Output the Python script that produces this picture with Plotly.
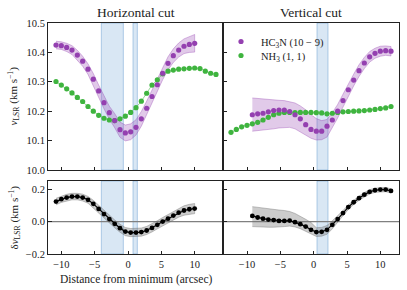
import plotly.graph_objects as go

# ---------------- data ----------------
# Horizontal cut
x_h_hc3n = [-10.8, -10.0, -9.2, -8.4, -7.6, -6.8, -6.0, -5.2, -4.4, -3.6, -2.8, -2.0, -1.2, -0.4,
            0.4, 1.2, 2.0, 2.8, 3.6, 4.4, 5.2, 6.0, 6.8, 7.6, 8.4, 9.2, 10.0]
v_h_hc3n = [10.425, 10.423, 10.417, 10.408, 10.391, 10.370, 10.343, 10.309, 10.269, 10.229, 10.195,
            10.168, 10.137, 10.126, 10.130, 10.145, 10.174, 10.210, 10.250, 10.290, 10.329, 10.363,
            10.389, 10.408, 10.421, 10.427, 10.431]
err_h_hc3n = [0.013, 0.013, 0.014, 0.015, 0.016, 0.017, 0.018, 0.019, 0.020, 0.021, 0.022, 0.024,
              0.026, 0.027, 0.027, 0.026, 0.025, 0.024, 0.023, 0.022, 0.022, 0.022, 0.023, 0.024,
              0.025, 0.027, 0.030]
x_h_nh3 = [-10.8, -10.0, -9.2, -8.4, -7.6, -6.8, -6.0, -5.2, -4.4, -3.6, -2.8, -2.0, -1.2, -0.4,
           0.4, 1.2, 2.0, 2.8, 3.6, 4.4, 5.2, 6.0, 6.8, 7.6, 8.4, 9.2, 10.0, 10.8, 11.6, 12.4, 13.2]
v_h_nh3 = [10.301, 10.289, 10.276, 10.262, 10.247, 10.233, 10.216, 10.200, 10.186, 10.176, 10.170,
           10.168, 10.174, 10.183, 10.196, 10.212, 10.234, 10.261, 10.289, 10.307, 10.327, 10.336,
           10.340, 10.343, 10.344, 10.346, 10.347, 10.345, 10.336, 10.329, 10.325]
dv_h = [0.123, 0.138, 0.148, 0.154, 0.154, 0.148, 0.134, 0.109, 0.078, 0.046, 0.015, -0.014, -0.041,
        -0.062, -0.068, -0.068, -0.065, -0.055, -0.039, -0.020, 0.000, 0.018, 0.037, 0.055, 0.068,
        0.076, 0.080]
err_dv_h = [0.020, 0.020, 0.020, 0.020, 0.020, 0.021, 0.021, 0.022, 0.022, 0.023, 0.023, 0.024, 0.025,
            0.025, 0.025, 0.025, 0.025, 0.025, 0.025, 0.025, 0.025, 0.026, 0.027, 0.028, 0.029, 0.030,
            0.031]

# Vertical cut
x_v_hc3n = [-9.2, -8.4, -7.6, -6.8, -6.0, -5.2, -4.4, -3.6, -2.8, -2.0, -1.2, -0.4, 0.4, 1.2, 2.0,
            2.8, 3.6, 4.4, 5.2, 6.0, 6.8, 7.6, 8.4, 9.2, 10.0, 10.8, 11.6]
v_v_hc3n = [10.188, 10.191, 10.193, 10.198, 10.202, 10.204, 10.204, 10.199, 10.188, 10.174, 10.154,
            10.138, 10.132, 10.132, 10.149, 10.170, 10.200, 10.236, 10.273, 10.306, 10.338, 10.364,
            10.385, 10.397, 10.404, 10.406, 10.404]
lo_v_hc3n = [10.132, 10.134, 10.136, 10.138, 10.140, 10.143, 10.145, 10.145, 10.140, 10.130, 10.118,
             10.108, 10.102, 10.103, 10.112, 10.145, 10.177, 10.214, 10.252, 10.286, 10.318, 10.345,
             10.367, 10.380, 10.387, 10.390, 10.388]
hi_v_hc3n = [10.245, 10.243, 10.241, 10.240, 10.239, 10.237, 10.236, 10.233, 10.228, 10.218, 10.205,
             10.188, 10.175, 10.168, 10.172, 10.195, 10.223, 10.258, 10.294, 10.326, 10.358, 10.383,
             10.403, 10.414, 10.421, 10.422, 10.420]
x_v_nh3 = [-12.4, -11.6, -10.8, -10.0, -9.2, -8.4, -7.6, -6.8, -6.0, -5.2, -4.4, -3.6, -2.8, -2.0,
           -1.2, -0.4, 0.4, 1.2, 2.0, 2.8, 3.6, 4.4, 5.2, 6.0, 6.8, 7.6, 8.4, 9.2, 10.0, 10.8, 11.6]
v_v_nh3 = [10.128, 10.138, 10.147, 10.152, 10.157, 10.162, 10.170, 10.179, 10.188, 10.193, 10.196,
           10.196, 10.195, 10.196, 10.196, 10.196, 10.195, 10.194, 10.191, 10.193, 10.196, 10.198,
           10.199, 10.200, 10.201, 10.202, 10.204, 10.206, 10.209, 10.211, 10.216]
dv_v = [0.035, 0.025, 0.018, 0.012, 0.009, 0.004, 0.004, 0.006, -0.004, -0.016, -0.031, -0.051,
        -0.065, -0.063, -0.051, -0.020, 0.015, 0.052, 0.089, 0.119, 0.144, 0.166, 0.183, 0.193,
        0.197, 0.197, 0.189]
lo_dv_v = [-0.031, -0.033, -0.034, -0.035, -0.035, -0.034, -0.031, -0.028, -0.033, -0.044, -0.058,
           -0.076, -0.092, -0.090, -0.078, -0.045, -0.005, 0.036, 0.074, 0.105, 0.131, 0.153, 0.170,
           0.180, 0.184, 0.184, 0.176]
hi_dv_v = [0.092, 0.087, 0.082, 0.078, 0.074, 0.071, 0.068, 0.062, 0.050, 0.034, 0.014, -0.006,
           -0.038, -0.036, -0.024, 0.005, 0.035, 0.068, 0.104, 0.133, 0.157, 0.179, 0.196, 0.206,
           0.210, 0.210, 0.202]

# highlighted regions (arcsec)
spans_h = [(-4.0, -0.7), (0.75, 1.4)]
spans_v = [(0.5, 2.15)]

titles = ["Horizontal cut", "Vertical cut"]
legend_names = ["HC<sub>3</sub>N (10 − 9)", "NH<sub>3</sub> (1, 1)"]

# ---------------- style ----------------
FONT = "Liberation Serif"
PURPLE = "#9440b0"
GREEN = "#3fb43f"
W, H = 407, 290


def px_x(p):
    return p / W


def px_y(p):
    return 1 - p / H


fig = go.Figure()


def band(x, lo, hi, xa, ya, fill, edge):
    xs = list(x) + list(x)[::-1]
    ys = list(hi) + list(lo)[::-1]
    fig.add_trace(go.Scatter(x=xs, y=ys, xaxis=xa, yaxis=ya, fill="toself", fillcolor=fill,
                             line=dict(color=edge, width=0.8), mode="lines", hoverinfo="skip",
                             showlegend=False))


GREEN_LINE = dict(color="rgba(63,180,63,0.55)", width=1)

# top-left
band(x_h_hc3n, [v - e for v, e in zip(v_h_hc3n, err_h_hc3n)],
     [v + e for v, e in zip(v_h_hc3n, err_h_hc3n)], "x", "y",
     "rgba(148,64,176,0.28)", "rgba(148,64,176,0.45)")
fig.add_trace(go.Scatter(x=x_h_nh3, y=v_h_nh3, xaxis="x", yaxis="y", mode="lines+markers",
                         line=GREEN_LINE, marker=dict(color=GREEN, size=5.2), showlegend=False))
fig.add_trace(go.Scatter(x=x_h_hc3n, y=v_h_hc3n, xaxis="x", yaxis="y", mode="markers",
                         marker=dict(color=PURPLE, size=5.2), showlegend=False))

# top-right
band(x_v_hc3n, lo_v_hc3n, hi_v_hc3n, "x2", "y2", "rgba(148,64,176,0.28)", "rgba(148,64,176,0.45)")
fig.add_trace(go.Scatter(x=x_v_nh3, y=v_v_nh3, xaxis="x2", yaxis="y2", mode="lines",
                         line=GREEN_LINE, showlegend=False))
fig.add_trace(go.Scatter(x=x_v_nh3, y=v_v_nh3, xaxis="x2", yaxis="y2", mode="markers",
                         marker=dict(color=GREEN, size=5.2), name=legend_names[1],
                         legend="legend2", showlegend=True))
fig.add_trace(go.Scatter(x=x_v_hc3n, y=v_v_hc3n, xaxis="x2", yaxis="y2", mode="markers",
                         marker=dict(color=PURPLE, size=5.2), name=legend_names[0],
                         legend="legend", showlegend=True))

# bottom-left
band(x_h_hc3n, [v - e for v, e in zip(dv_h, err_dv_h)], [v + e for v, e in zip(dv_h, err_dv_h)],
     "x3", "y3", "rgba(110,110,110,0.35)", "rgba(110,110,110,0.5)")
fig.add_trace(go.Scatter(x=x_h_hc3n, y=dv_h, xaxis="x3", yaxis="y3", mode="lines+markers",
                         line=dict(color="black", width=1.2), marker=dict(color="black", size=4.8),
                         showlegend=False))

# bottom-right
band(x_v_hc3n, lo_dv_v, hi_dv_v, "x4", "y4", "rgba(110,110,110,0.35)", "rgba(110,110,110,0.5)")
fig.add_trace(go.Scatter(x=x_v_hc3n, y=dv_v, xaxis="x4", yaxis="y4", mode="lines+markers",
                         line=dict(color="black", width=1.2), marker=dict(color="black", size=4.8),
                         showlegend=False))

shapes = []
for xa, ya, spans in [("x", "y", spans_h), ("x3", "y3", spans_h), ("x2", "y2", spans_v),
                      ("x4", "y4", spans_v)]:
    for a, b in spans:
        shapes.append(dict(type="rect", xref=xa, yref=ya + " domain", x0=a, x1=b, y0=0, y1=1,
                           fillcolor="rgba(130,175,218,0.30)",
                           line=dict(color="rgba(110,160,210,0.5)", width=1), layer="below"))
for xa, ya in [("x3", "y3"), ("x4", "y4")]:
    shapes.append(dict(type="line", xref=xa + " domain", yref=ya, x0=0, x1=1, y0=0, y1=0,
                       line=dict(color="#808080", width=1.2), layer="below"))

# domains (pixels)
L0, L1, R0, R1 = 48, 223, 223, 399
T0, T1, B0, B1 = 23, 170, 181, 254
xl = [px_x(L0), px_x(L1)]
xr = [px_x(R0), px_x(R1)]
yt = [px_y(T1), px_y(T0)]
yb = [px_y(B1), px_y(B0)]

ax_common = dict(showline=True, linecolor="#222", linewidth=1, mirror=True, ticks="inside",
                 ticklen=3.5, tickwidth=0.8, tickcolor="#222", showgrid=False, zeroline=False,
                 automargin=False,
                 tickfont=dict(family=FONT, size=10.5, color="#222"))
xr_left = [-12.0, 14.25]
xr_right = [-13.6, 12.8]

xticks = [-10, -5, 0, 5, 10]

fig.update_layout(
    width=W, height=H, margin=dict(l=0, r=0, t=0, b=0, autoexpand=False),
    paper_bgcolor="white", plot_bgcolor="white",
    font=dict(family=FONT, color="#222"),
    xaxis=dict(domain=xl, range=xr_left, anchor="y", tickvals=xticks, showticklabels=False, **ax_common),
    yaxis=dict(domain=yt, range=[10.0, 10.5], anchor="x", tickvals=[10.0, 10.1, 10.2, 10.3, 10.4, 10.5],
               tickformat=".1f", **ax_common),
    xaxis2=dict(domain=xr, range=xr_right, anchor="y2", tickvals=xticks, showticklabels=False, **ax_common),
    yaxis2=dict(domain=yt, range=[10.0, 10.5], anchor="x2", tickvals=[10.0, 10.1, 10.2, 10.3, 10.4, 10.5],
                showticklabels=False, **ax_common),
    xaxis3=dict(domain=xl, range=xr_left, anchor="y3", tickvals=xticks, **ax_common),
    yaxis3=dict(domain=yb, range=[-0.2, 0.25], anchor="x3", tickvals=[-0.2, 0.0, 0.2], tickformat=".1f",
                **ax_common),
    xaxis4=dict(domain=xr, range=xr_right, anchor="y4", tickvals=xticks, **ax_common),
    yaxis4=dict(domain=yb, range=[-0.2, 0.25], anchor="x4", tickvals=[-0.2, 0.0, 0.2],
                showticklabels=False, **ax_common),
    shapes=shapes,
    legend=dict(x=px_x(221), y=px_y(27), xanchor="left", yanchor="top", bgcolor="rgba(0,0,0,0)",
                font=dict(family=FONT, size=10.5, color="#222"), itemwidth=30,
                borderwidth=0, tracegroupgap=0),
    legend2=dict(x=px_x(221), y=px_y(41), xanchor="left", yanchor="top", bgcolor="rgba(0,0,0,0)",
                 font=dict(family=FONT, size=10.5, color="#222"), itemwidth=30,
                 borderwidth=0, tracegroupgap=0),
)

ann = [
    dict(text=titles[0], x=px_x((L0 + L1) / 2), y=px_y(12.5), xref="paper", yref="paper",
         showarrow=False, font=dict(family=FONT, size=13.5, color="#222"), xanchor="center",
         yanchor="middle"),
    dict(text=titles[1], x=px_x((R0 + R1) / 2), y=px_y(12.5), xref="paper", yref="paper",
         showarrow=False, font=dict(family=FONT, size=13.5, color="#222"), xanchor="center",
         yanchor="middle"),
    dict(text="<i>v</i><sub>LSR</sub> (km s<sup>−1</sup>)", x=px_x(14), y=px_y((T0 + T1) / 2),
         xref="paper", yref="paper", showarrow=False, textangle=-90,
         font=dict(family=FONT, size=11, color="#222"), xanchor="center", yanchor="middle"),
    dict(text="δ<i>v</i><sub>LSR</sub> (km s<sup>−1</sup>)", x=px_x(14), y=px_y((B0 + B1) / 2),
         xref="paper", yref="paper", showarrow=False, textangle=-90,
         font=dict(family=FONT, size=11, color="#222"), xanchor="center", yanchor="middle"),
    dict(text="Distance from minimum (arcsec)", x=px_x((L0 + L1) / 2), y=px_y(279),
         xref="paper", yref="paper", showarrow=False,
         font=dict(family=FONT, size=11.5, color="#222"), xanchor="center", yanchor="middle"),
]
fig.update_layout(annotations=ann)

fig.write_html("out.html", config={"displayModeBar": False},
               post_script="document.body.style.margin='0';"
                           "document.documentElement.style.overflow='hidden';")
